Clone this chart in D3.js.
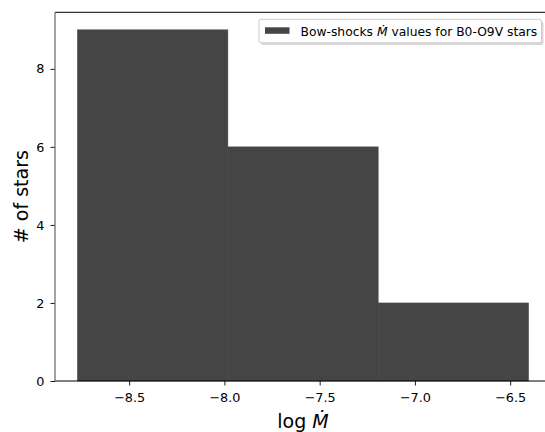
<!DOCTYPE html>
<html>
<head>
<meta charset="utf-8">
<script src="https://cdn.jsdelivr.net/npm/d3@7"></script>
<style>
  body { margin: 0; background: #fff; overflow: hidden; }
  text { font-family: "DejaVu Sans", sans-serif; fill: #000; }
</style>
</head>
<body>
<div id="chart"></div>
<script>
// histogram bins (log Mdot) and counts
var binEdges = [-8.771, -7.982, -7.193, -6.404];
var counts = [9, 6, 2];
var xTicks = [-8.5, -8.0, -7.5, -7.0, -6.5];
var xTickLabels = ['\u22128.5', '\u22128.0', '\u22127.5', '\u22127.0', '\u22126.5'];
var yTicks = [0, 2, 4, 6, 8];
var yTickLabels = ['0', '2', '4', '6', '8'];
var legendLabel = 'Bow-shocks ';
var legendLabelEnd = ' values for B0-O9V stars';

var width = 545;
var height = 432;
// plot area edges (right edge lies just outside the picture)
var plotLeft = 55, plotRight = 551, plotTop = 12.3, plotBottom = 381;
var barColor = '#454545';

var svg = d3.select('#chart')
  .append('svg')
  .attr('width', width)
  .attr('height', height)
  .style('display', 'block');

// matplotlib style 5% margin on x, sticky zero on y
var xMin = d3.min(binEdges), xMax = d3.max(binEdges);
var pad = (xMax - xMin) * 0.05;
var x = d3.scaleLinear()
  .domain([xMin - pad, xMax + pad])
  .range([plotLeft, plotRight]);

var y = d3.scaleLinear()
  .domain([0, d3.max(counts) * 1.05])
  .range([plotBottom, plotTop]);

var bins = counts.map(function(c, i) {
  return { x0: binEdges[i], x1: binEdges[i + 1], n: c };
});

svg.append('g')
  .selectAll('rect')
  .data(bins)
  .enter()
  .append('rect')
  .attr('x', function(d) { return x(d.x0); })
  .attr('width', function(d) { return x(d.x1) - x(d.x0); })
  .attr('y', function(d) { return y(d.n); })
  .attr('height', function(d) { return y(0) - y(d.n); })
  .attr('fill', barColor)
  .attr('stroke', barColor)
  .attr('stroke-width', 0.6);

// axes
var xAxis = d3.axisBottom(x)
  .tickValues(xTicks)
  .tickFormat(function(d, i) { return xTickLabels[i]; })
  .tickSize(4.5)
  .tickPadding(7.5);

var yAxis = d3.axisLeft(y)
  .tickValues(yTicks)
  .tickFormat(function(d, i) { return yTickLabels[i]; })
  .tickSize(4.5)
  .tickPadding(6);

var gx = svg.append('g')
  .attr('transform', 'translate(0,' + plotBottom + ')')
  .call(xAxis);
var gy = svg.append('g')
  .attr('transform', 'translate(' + plotLeft + ',0)')
  .call(yAxis);

[gx, gy].forEach(function(g) {
  g.attr('font-size', null).attr('font-family', null);
  g.select('.domain').remove();
  g.selectAll('text')
    .style('font-family', '"DejaVu Sans", sans-serif')
    .style('font-size', '12.8px')
    .attr('fill', '#000');
  g.selectAll('line').attr('stroke', '#000').attr('stroke-width', 0.9);
});

// spines (right one falls outside the picture)
svg.append('line')
  .attr('x1', plotLeft).attr('x2', width).attr('y1', plotBottom).attr('y2', plotBottom)
  .attr('stroke', '#000').attr('stroke-width', 1);
svg.append('line')
  .attr('x1', plotLeft).attr('x2', width).attr('y1', plotTop).attr('y2', plotTop)
  .attr('stroke', '#000').attr('stroke-width', 1);
svg.append('line')
  .attr('x1', plotLeft).attr('x2', plotLeft).attr('y1', plotTop).attr('y2', plotBottom)
  .attr('stroke', '#666').attr('stroke-width', 1.2);

// axis labels
var xl = svg.append('text')
  .attr('x', (plotLeft + plotRight) / 2)
  .attr('y', 428)
  .attr('text-anchor', 'middle')
  .style('font-size', '19px');
xl.append('tspan').text('log ');
xl.append('tspan').style('font-style', 'italic').text('\u1E40');

svg.append('text')
  .attr('transform', 'translate(28,' + (plotTop + plotBottom) / 2 + ') rotate(-90)')
  .attr('text-anchor', 'middle')
  .style('font-size', '19px')
  .text('# of stars');

// legend
var legend = svg.append('g');
legend.append('rect')
  .attr('x', 261).attr('y', 21.5)
  .attr('width', 282.5).attr('height', 23.5)
  .attr('rx', 2)
  .attr('fill', '#000').attr('opacity', 0.15);
legend.append('rect')
  .attr('x', 259).attr('y', 19.3)
  .attr('width', 282.5).attr('height', 23.5)
  .attr('rx', 2)
  .attr('fill', '#fff')
  .attr('stroke', '#ccc')
  .attr('stroke-width', 1);
legend.append('rect')
  .attr('x', 265).attr('y', 27.3)
  .attr('width', 24.5).attr('height', 6.5)
  .attr('fill', barColor);
var lt = legend.append('text')
  .attr('x', 300.5)
  .attr('y', 35.5)
  .style('font-size', '12.3px');
lt.append('tspan').text(legendLabel);
lt.append('tspan').style('font-style', 'italic').text('\u1E40');
lt.append('tspan').text(legendLabelEnd);
</script>
</body>
</html>
